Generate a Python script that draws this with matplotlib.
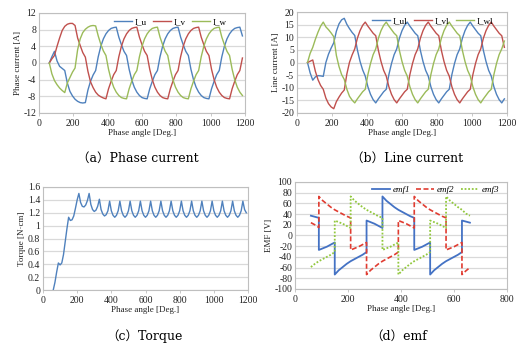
import numpy as np
import matplotlib
matplotlib.use("Agg")
import matplotlib.pyplot as plt
from matplotlib.ticker import FuncFormatter

plt.rcParams['axes.unicode_minus'] = False
plt.rcParams['font.family'] = ['Liberation Serif', 'DejaVu Serif']

# ---------------- data ----------------
angle = np.arange(60, 1186, 15)   # phase angle grid [deg]

I_u = [0, 1.5, 2.8, 0.5, -0.8, -1.3, -1.8, -4.8, -6.8, -7.9, -8.7, -9.2, -9.5, -9.6, -9.5,
       -6.5, -4.4, -2.9, -1.8, 1.5, 4.0, 5.8, 7.0, 7.8, 8.3, 8.5, 8.6,
       6.2, 4.4, 2.8, 1.8, -1.5, -4.0, -5.8, -7.0, -7.8, -8.3, -8.5, -8.6,
       -6.2, -4.4, -2.8, -1.8, 1.5, 4.0, 5.8, 7.0, 7.8, 8.3, 8.5, 8.6,
       6.2, 4.4, 2.8, 1.8, -1.5, -4.0, -5.8, -7.0, -7.8, -8.3, -8.5, -8.6,
       -6.2, -4.4, -2.8, -1.8, 1.5, 4.0, 5.8, 7.0, 7.8, 8.3, 8.5, 8.6, 6.5]
I_v = [0, 1.0, 1.8, 4.0, 6.0, 7.8, 8.8, 9.3, 9.5, 9.5, 9.0, 6.0, 4.2, 2.5, 1.4,
       -2.0, -4.5, -5.9, -7.0, -7.7, -8.1, -8.4, -8.6,
       -6.2, -4.4, -2.8, -1.8, 1.5, 4.0, 5.8, 7.0, 7.8, 8.3, 8.5, 8.6,
       6.2, 4.4, 2.8, 1.8, -1.5, -4.0, -5.8, -7.0, -7.8, -8.3, -8.5, -8.6,
       -6.2, -4.4, -2.8, -1.8, 1.5, 4.0, 5.8, 7.0, 7.8, 8.3, 8.5, 8.6,
       6.2, 4.4, 2.8, 1.8, -1.5, -4.0, -5.8, -7.0, -7.8, -8.3, -8.5, -8.6,
       -6.2, -4.4, -2.8, -1.8, 1.2]
I_w = [0, -2.6, -4.2, -5.2, -6.0, -6.6, -7.1, -4.8, -3.5, -2.2, -1.2, 3.2, 5.8, 7.3, 8.1,
       8.6, 8.9, 9.0, 8.9, 6.5, 4.5, 2.9, 1.8, -1.5, -4.0, -5.8, -7.0, -7.8, -8.3, -8.5, -8.6,
       -6.2, -4.4, -2.8, -1.8, 1.5, 4.0, 5.8, 7.0, 7.8, 8.3, 8.5, 8.6,
       6.2, 4.4, 2.8, 1.8, -1.5, -4.0, -5.8, -7.0, -7.8, -8.3, -8.5, -8.6,
       -6.2, -4.4, -2.8, -1.8, 1.5, 4.0, 5.8, 7.0, 7.8, 8.3, 8.5, 8.6,
       6.2, 4.4, 2.8, 1.8, -1.5, -4.0, -5.8, -7.0, -7.8]

I_ul = [0, -4.1, -7.0, -5.7, -5.2, -5.3, -5.5, 0.0, 3.3, 5.7, 7.8, 12.4, 15.3, 16.9, 17.5,
        15.1, 13.4, 11.9, 10.7, 5.0, 0.5, -2.9, -5.4, -9.6, -12.6, -14.7, -16.0,
        -14.4, -13.0, -11.6, -10.6, -4.8, -0.4, 3.1, 5.4, 9.6, 12.6, 14.7, 16.0,
        14.4, 13.0, 11.6, 10.6, 4.8, 0.4, -3.1, -5.4, -9.6, -12.6, -14.7, -16.0,
        -14.4, -13.0, -11.6, -10.6, -4.8, -0.4, 3.1, 5.4, 9.6, 12.6, 14.7, 16.0,
        14.4, 13.0, 11.6, 10.6, 4.8, 0.4, -3.1, -5.4, -9.6, -12.6, -14.7, -16.0, -14.4]
I_vl = [0, 0.5, 1.0, -3.5, -6.8, -9.1, -10.6, -14.1, -16.3, -17.6, -18.3, -15.5, -13.7, -12.1, -10.9,
        -4.5, 0.1, 3.0, 5.4, 9.6, 12.6, 14.7, 16.0, 14.4, 13.0, 11.6, 10.6,
        4.8, 0.4, -3.1, -5.4, -9.6, -12.6, -14.7, -16.0, -14.4, -13.0, -11.6, -10.6,
        -4.8, -0.4, 3.1, 5.4, 9.6, 12.6, 14.7, 16.0, 14.4, 13.0, 11.6, 10.6,
        4.8, 0.4, -3.1, -5.4, -9.6, -12.6, -14.7, -16.0, -14.4, -13.0, -11.6, -10.6,
        -4.8, -0.4, 3.1, 5.4, 9.6, 12.6, 14.7, 16.0, 14.4, 13.0, 11.6, 10.6, 6.0]
I_wl = [0, 3.6, 6.0, 9.2, 12.0, 14.4, 16.0, 14.1, 13.0, 11.7, 10.2, 2.8, -1.6, -4.8, -6.7,
        -10.6, -13.4, -14.9, -16.0, -14.4, -13.0, -11.6, -10.6, -4.8, -0.4, 3.1, 5.4,
        9.6, 12.6, 14.7, 16.0, 14.4, 13.0, 11.6, 10.6, 4.8, 0.4, -3.1, -5.4,
        -9.6, -12.6, -14.7, -16.0, -14.4, -13.0, -11.6, -10.6, -4.8, -0.4, 3.1, 5.4,
        9.6, 12.6, 14.7, 16.0, 14.4, 13.0, 11.6, 10.6, 4.8, 0.4, -3.1, -5.4,
        -9.6, -12.6, -14.7, -16.0, -14.4, -13.0, -11.6, -10.6, -4.8, -0.4, 3.1, 5.4, 8.5]

torque_angle = np.arange(60, 1191, 10)
torque = [0.0, 0.12, 0.28, 0.42, 0.39, 0.42, 0.55, 0.75, 0.95, 1.13, 1.08, 1.09, 1.15, 1.27, 1.40,
          1.50, 1.36, 1.30, 1.29, 1.32, 1.39, 1.50, 1.33, 1.25, 1.22, 1.24, 1.30, 1.41,
          1.25, 1.18, 1.15, 1.17, 1.23, 1.38,
          1.23, 1.16, 1.13, 1.16, 1.23, 1.38,
          1.23, 1.16, 1.13, 1.16, 1.23, 1.38,
          1.23, 1.16, 1.13, 1.16, 1.23, 1.38,
          1.23, 1.16, 1.13, 1.16, 1.23, 1.38,
          1.23, 1.16, 1.13, 1.16, 1.23, 1.38,
          1.23, 1.16, 1.13, 1.16, 1.23, 1.38,
          1.23, 1.16, 1.13, 1.16, 1.23, 1.38,
          1.23, 1.16, 1.13, 1.16, 1.23, 1.38,
          1.23, 1.16, 1.13, 1.16, 1.23, 1.38,
          1.23, 1.16, 1.13, 1.16, 1.23, 1.38,
          1.23, 1.16, 1.13, 1.16, 1.23, 1.38,
          1.23, 1.16, 1.13, 1.16, 1.23, 1.38,
          1.23, 1.16, 1.13, 1.16, 1.23, 1.38,
          1.25, 1.20]

emf_angle = [60, 75, 90,
             90, 105, 120, 135, 150,
             150, 165, 180, 195, 210,
             210, 225, 240, 255, 270,
             270, 285, 300, 315, 330,
             330, 345, 360, 375, 390,
             390, 405, 420, 435, 450,
             450, 465, 480, 495, 510,
             510, 525, 540, 555, 570,
             570, 585, 600, 615, 630,
             630, 645, 660]
emf1 = [37, 35, 33,
        -27, -24, -21, -17, -13,
        -73, -65, -59, -53, -48,
        -48, -44, -40, -36, -31,
        28, 25, 22, 18, 14,
        73, 65, 59, 53, 48,
        48, 44, 40, 36, 33,
        -27, -24, -21, -17, -13,
        -73, -65, -59, -53, -48,
        -48, -44, -40, -36, -31,
        28, 26, 24]
emf2 = [24, 20, 15,
        73, 65, 59, 53, 48,
        48, 44, 40, 36, 33,
        -27, -24, -21, -17, -13,
        -73, -65, -59, -53, -48,
        -48, -44, -40, -36, -31,
        28, 25, 22, 18, 14,
        73, 65, 59, 53, 48,
        48, 44, 40, 36, 33,
        -27, -24, -21, -17, -13,
        -73, -66, -60]
emf3 = [-59, -53, -48,
        -48, -44, -40, -36, -31,
        28, 25, 22, 18, 14,
        73, 65, 59, 53, 48,
        48, 44, 40, 36, 33,
        -27, -24, -21, -17, -13,
        -73, -65, -59, -53, -48,
        -48, -44, -40, -36, -31,
        28, 25, 22, 18, 14,
        73, 65, 59, 53, 48,
        48, 41, 37]

# ---------------- style ----------------
BLUE, RED, GREEN = '#4F81BD', '#C0504D', '#9BBB59'
W, H = 530, 347
fig = plt.figure(figsize=(W / 100, H / 100), dpi=100)


def add_axes(l, r, t, b):
    return fig.add_axes([l / W, 1 - b / H, (r - l) / W, (b - t) / H])


fmt = FuncFormatter(lambda v, p: '%g' % v)


def style(ax, xlim, xticks, ylim, yticks):
    ax.set_xlim(*xlim)
    ax.set_ylim(*ylim)
    ax.set_xticks(xticks)
    ax.set_yticks(yticks)
    ax.yaxis.set_major_formatter(fmt)
    ax.grid(axis='y', color='#d9d9d9', lw=0.9)
    ax.set_axisbelow(True)
    for s in ax.spines.values():
        s.set_color('#bfbfbf')
        s.set_linewidth(0.8)
    ax.tick_params(axis='both', labelsize=7, colors='#bfbfbf', labelcolor='#222222', pad=2)
    ax.tick_params(axis='y', length=0)
    ax.tick_params(axis='x', length=2, width=0.6)


lab = dict(fontsize=6.5, color='#222222')
leg_kw = dict(ncol=3, frameon=False, fontsize=6.5, handlelength=2.0,
              columnspacing=0.7, handletextpad=0.3, borderaxespad=0.0)

# (a) phase current
ax = add_axes(39, 245, 13, 113)
ax.plot(angle, I_u, color=BLUE, lw=1.0, label='I_u')
ax.plot(angle, I_v, color=RED, lw=1.0, label='I_v')
ax.plot(angle, I_w, color=GREEN, lw=1.0, label='I_w')
style(ax, (0, 1200), range(0, 1201, 200), (-12, 12), range(-12, 13, 4))
ax.set_ylabel('Phase current [A]', labelpad=1, **lab)
ax.set_xlabel('Phase angle [Deg.]', labelpad=1, **lab)
ax.legend(loc='upper right', bbox_to_anchor=(0.93, 0.99), **leg_kw)

# (b) line current
ax = add_axes(297, 507, 12, 113)
ax.plot(angle, I_ul, color=BLUE, lw=1.0, label='I_ul')
ax.plot(angle, I_vl, color=RED, lw=1.0, label='I_vl')
ax.plot(angle, I_wl, color=GREEN, lw=1.0, label='I_wl')
style(ax, (0, 1200), range(0, 1201, 200), (-20, 20), range(-20, 21, 5))
ax.set_ylabel('Line current [A]', labelpad=1, **lab)
ax.set_xlabel('Phase angle [Deg.]', labelpad=1, **lab)
ax.legend(loc='upper right', bbox_to_anchor=(0.95, 0.99), **leg_kw)

# (c) torque
ax = add_axes(43, 248, 187, 290)
ax.plot(torque_angle, torque, color=BLUE, lw=1.0)
style(ax, (0, 1200), range(0, 1201, 200), (0, 1.6), np.arange(0, 1.61, 0.2))
ax.set_ylabel('Torque [N·cm]', labelpad=1, **lab)
ax.set_xlabel('Phase angle [Deg.]', labelpad=1, **lab)

# (d) emf
ax = add_axes(295, 507, 182, 289)
ax.plot(emf_angle, emf1, color='#4472C4', lw=1.3, ls='-', label='emf1')
ax.plot(emf_angle, emf2, color='#E03C31', lw=1.2, ls=(0, (3, 1.5)), label='emf2')
ax.plot(emf_angle, emf3, color='#92C83E', lw=1.3, ls=(0, (1, 1.0)), label='emf3')
style(ax, (0, 800), range(0, 801, 200), (-100, 100), range(-100, 101, 20))
ax.set_ylabel('EMF [V]', labelpad=1, **lab)
ax.set_xlabel('Phase angle [Deg.]', labelpad=1, **lab)
lg = ax.legend(loc='upper right', bbox_to_anchor=(0.98, 1.0), **leg_kw)
for t in lg.get_texts():
    t.set_fontstyle('italic')

# captions
cap = dict(fontsize=9, ha='center', va='center', family=['DejaVu Serif', 'Noto Sans CJK KR'])
fig.text(138 / W, 1 - 158 / H, '（a）Phase current', **cap)
fig.text(407 / W, 1 - 158 / H, '（b）Line current', **cap)
fig.text(144 / W, 1 - 336 / H, '（c）Torque', **cap)
fig.text(399 / W, 1 - 336 / H, '（d）emf', **cap)

fig.savefig('out.png', dpi=100)
